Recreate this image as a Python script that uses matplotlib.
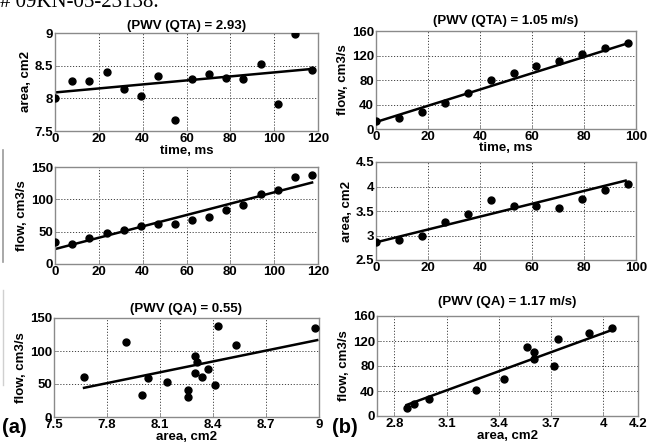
import numpy as np
import matplotlib
matplotlib.use("Agg")
import matplotlib.pyplot as plt
from matplotlib.lines import Line2D

# ---------------- data ----------------
# subject (a): 16 samples
time_a = [0, 7.8, 15.6, 23.5, 31.3, 39.1, 46.9, 54.8, 62.6, 70.4, 78.2, 86.0, 93.9, 101.7, 109.5, 117.3]
area_a = [8.00, 8.26, 8.26, 8.41, 8.14, 8.03, 8.34, 7.67, 8.30, 8.37, 8.31, 8.30, 8.53, 7.91, 8.98, 8.43]
flow_a = [34.0, 30.5, 40.6, 47.8, 52.4, 58.5, 61.1, 61.1, 67.3, 73.0, 83.7, 91.9, 108.4, 114.0, 135.0, 137.6]

# subject (b): 12 samples
time_b = [0, 8.8, 17.6, 26.5, 35.3, 44.1, 52.9, 61.7, 70.5, 79.3, 88.1, 96.9]
area_b = [2.87, 2.91, 3.00, 3.27, 3.43, 3.72, 3.60, 3.60, 3.56, 3.74, 3.92, 4.05]
flow_b = [12.5, 18.6, 28.0, 42.0, 59.5, 80.0, 91.6, 103.0, 111.0, 123.0, 133.0, 141.0]

# fitted lines as drawn in the figure (start / end values)
fit_tl_x, fit_tl_y = [0, 117.3], [8.09, 8.45]
fit_tr_x, fit_tr_y = [0, 96.9], [11.4, 140.0]
fit_ml_x, fit_ml_y = [0, 117.3], [23.1, 126.0]
fit_mr_x, fit_mr_y = [0, 96.0], [2.86, 4.12]
fit_bl_x, fit_bl_y = [7.67, 8.99], [44.2, 116.5]
fit_br_x, fit_br_y = [2.87, 4.05], [17.7, 137.6]

titles = {"TL": "(PWV (QTA) = 2.93)", "TR": "(PWV (QTA) = 1.05 m/s)",
          "BL": "(PWV (QA) = 0.55)", "BR": "(PWV (QA) = 1.17 m/s)"}

# ---------------- figure ----------------
W, H = 659, 442
fig = plt.figure(figsize=(W / 100, H / 100), dpi=100)
plt.rcParams["font.family"] = ["Liberation Sans", "DejaVu Sans"]

def px_axes(x0, y0, x1, y1):
    return fig.add_axes([x0 / W, 1 - y1 / H, (x1 - x0) / W, (y1 - y0) / H])

def style(ax, xlim, ylim, xticks, yticks, xtl=None, ytl=None):
    ax.set_xlim(*xlim)
    ax.set_ylim(*ylim)
    ax.set_xticks(xticks)
    ax.set_yticks(yticks)
    if xtl is not None:
        ax.set_xticklabels(xtl)
    if ytl is not None:
        ax.set_yticklabels(ytl)
    ax.grid(True, linestyle=(0, (1.2, 1.8)), color="#444444", linewidth=0.7)
    ax.set_axisbelow(True)
    for s in ax.spines.values():
        s.set_color("#8a8a8a")
        s.set_linewidth(1.0)
    ax.tick_params(direction="in", length=2.5, width=0.6, colors="#8a8a8a",
                   labelcolor="black", labelsize=9.5, pad=1.5)
    for lab in ax.get_xticklabels() + ax.get_yticklabels():
        lab.set_fontweight("bold")

def scatter_fit(ax, x, y, fx, fy):
    ax.plot(x, y, "o", color="black", markersize=5, zorder=3)
    ax.plot(fx, fy, color="black", linewidth=1.8, zorder=2)

lab_kw = dict(fontsize=9.5, fontweight="bold")
ttl_kw = dict(fontsize=9.5, fontweight="bold")

# top-left: area vs time (a)
ax = px_axes(55, 33, 318, 131)
scatter_fit(ax, time_a, area_a, fit_tl_x, fit_tl_y)
style(ax, (0, 120), (7.5, 9), [0, 20, 40, 60, 80, 100, 120], [7.5, 8, 8.5, 9],
      ytl=["7.5", "8", "8.5", "9"])
ax.set_ylabel("area, cm2", labelpad=2, **lab_kw)
ax.set_xlabel("time, ms", labelpad=0, **lab_kw)
ax.set_title(titles["TL"], pad=3, **ttl_kw)

# top-right: flow vs time (b)
ax = px_axes(376, 31, 636, 129)
scatter_fit(ax, time_b, flow_b, fit_tr_x, fit_tr_y)
style(ax, (0, 100), (0, 160), [0, 20, 40, 60, 80, 100], [0, 40, 80, 120, 160])
ax.set_ylabel("flow, cm3/s", labelpad=2, **lab_kw)
ax.set_xlabel("time, ms", labelpad=-1, **lab_kw)
ax.set_title(titles["TR"], pad=5, **ttl_kw)

# mid-left: flow vs time (a)
ax = px_axes(55, 167, 318, 264)
scatter_fit(ax, time_a, flow_a, fit_ml_x, fit_ml_y)
style(ax, (0, 120), (0, 150), [0, 20, 40, 60, 80, 100, 120], [0, 50, 100, 150])
ax.set_ylabel("flow, cm3/s", labelpad=2, **lab_kw)

# mid-right: area vs time (b)
ax = px_axes(376, 162, 636, 260)
scatter_fit(ax, time_b, area_b, fit_mr_x, fit_mr_y)
style(ax, (0, 100), (2.5, 4.5), [0, 20, 40, 60, 80, 100], [2.5, 3, 3.5, 4, 4.5],
      ytl=["2.5", "3", "3.5", "4", "4.5"])
ax.set_ylabel("area, cm2", labelpad=2, **lab_kw)

# bottom-left: flow vs area (a)
ax = px_axes(54, 318, 319, 417)
scatter_fit(ax, area_a, flow_a, fit_bl_x, fit_bl_y)
style(ax, (7.5, 9), (0, 150), [7.5, 7.8, 8.1, 8.4, 8.7, 9], [0, 50, 100, 150],
      xtl=["7.5", "7.8", "8.1", "8.4", "8.7", "9"])
ax.set_ylabel("flow, cm3/s", labelpad=2, **lab_kw)
ax.set_xlabel("area, cm2", labelpad=0, **lab_kw)
ax.set_title(titles["BL"], pad=4, **ttl_kw)

# bottom-right: flow vs area (b)
ax = px_axes(377, 316, 638, 416)
scatter_fit(ax, area_b, flow_b, fit_br_x, fit_br_y)
style(ax, (2.7, 4.2), (0, 160), [2.8, 3.1, 3.4, 3.7, 4.0, 4.2], [0, 40, 80, 120, 160],
      xtl=["2.8", "3.1", "3.4", "3.7", "4", "4.2"])
ax.set_ylabel("flow, cm3/s", labelpad=2, **lab_kw)
ax.set_xlabel("area, cm2", labelpad=0, **lab_kw)
ax.set_title(titles["BR"], pad=8, **ttl_kw)

# panel labels
fig.text(2 / W, 1 - 433 / H, "(a)", fontsize=14.5, fontweight="bold", va="baseline")
fig.text(332 / W, 1 - 433 / H, "(b)", fontsize=14.5, fontweight="bold", va="baseline")

# clipped header line from the source page
fig.text(0, 1 - 7 / H, "# 09KN-05-23138.", family=["Liberation Serif", "DejaVu Serif"],
         fontsize=15, va="baseline", ha="left")

# faint crop edges on the left
fig.add_artist(Line2D([2.5 / W, 2.5 / W], [1 - 150 / H, 1 - 262 / H], color="#9a9a9a", lw=1.2))
fig.add_artist(Line2D([2.5 / W, 2.5 / W], [1 - 290 / H, 1 - 385 / H], color="#d0d0d0", lw=1.0))

fig.savefig("out.png", dpi=100)
